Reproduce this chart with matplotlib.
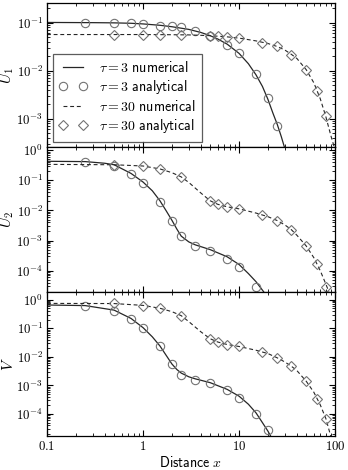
import numpy as np
import matplotlib
matplotlib.use('Agg')
import matplotlib.pyplot as plt
from matplotlib.ticker import FixedLocator, FuncFormatter, LogLocator, NullFormatter

# ── data ────────────────────────────────────────────────────
x_circ = [0.25, 0.5, 0.75, 1, 1.5, 2, 2.5, 3.5, 5, 7.5, 10, 15, 20, 25]
x_diam = [0.5, 1, 1.5, 2.5, 5, 6, 7.5, 10, 17.5, 25, 35, 50, 65, 80]

# U1
u1_num3_x = [0.1, 0.3, 0.5, 0.75, 1, 1.5, 2, 3, 4, 5, 6, 7.5, 10, 12.5, 15, 17.5, 20, 22.5, 25, 27.5, 29.7]
u1_num3_y = [0.102, 0.101, 0.1, 0.098, 0.095, 0.089, 0.083, 0.073, 0.063, 0.054, 0.046, 0.036, 0.023,
             0.014, 0.0082, 0.0047, 0.0025, 0.0013, 0.00075, 0.00042, 0.00025]
u1_num30_x = [0.1, 1, 2, 3, 5, 7.5, 10, 15, 20, 25, 30, 35, 40, 50, 60, 70, 80, 90, 98]
u1_num30_y = [0.057, 0.057, 0.0565, 0.056, 0.054, 0.051, 0.048, 0.042, 0.037, 0.032, 0.027, 0.022,
              0.018, 0.0105, 0.0056, 0.0026, 0.0011, 0.00045, 0.00025]
u1_ana3 = [0.101, 0.1, 0.097, 0.094, 0.0865, 0.084, 0.080, 0.067, 0.053, 0.035, 0.0236, 0.0085, 0.00275, 0.0007]
u1_ana30 = [0.056, 0.056, 0.056, 0.055, 0.053, 0.053, 0.051, 0.0486, 0.038, 0.0326, 0.0218, 0.0102, 0.0038, 0.00112]

# U2
u2_num3_x = [0.1, 0.25, 0.4, 0.5, 0.75, 1, 1.25, 1.5, 1.75, 2, 2.25, 2.5, 3, 3.5, 5, 7.5, 10, 12.5, 15, 18]
u2_num3_y = [0.43, 0.42, 0.37, 0.33, 0.17, 0.088, 0.045, 0.021, 0.0095, 0.0047, 0.0024, 0.0014, 0.0009,
             0.00072, 0.0005, 0.00029, 0.00016, 8e-5, 4.3e-5, 2e-5]
u2_num30_x = [0.1, 0.5, 1, 1.5, 2, 2.5, 3, 4, 5, 6, 7.5, 10, 15, 20, 25, 30, 35, 40, 50, 60, 70, 80, 86]
u2_num30_y = [0.34, 0.33, 0.30, 0.24, 0.18, 0.13, 0.085, 0.038, 0.021, 0.016, 0.0132, 0.0113, 0.0082,
              0.0062, 0.0046, 0.0033, 0.0023, 0.0015, 0.00066, 0.00027, 0.0001, 3.6e-5, 2e-5]
u2_ana3 = [0.395, 0.29, 0.158, 0.081, 0.019, 0.0044, 0.0014, 0.00065, 0.00046, 0.00024, 0.000135, 2.9e-5]
u2_ana30 = [0.32, 0.29, 0.23, 0.13, 0.0207, 0.0158, 0.0132, 0.0113, 0.0069, 0.0045, 0.0022, 0.00065,
            0.000166, 2.9e-5]

# V
v_num3_x = [0.1, 0.25, 0.5, 0.75, 1, 1.25, 1.5, 1.75, 2, 2.25, 2.5, 3, 3.5, 5, 7.5, 10, 12.5, 15, 17.5, 20, 21.5]
v_num3_y = [0.65, 0.62, 0.43, 0.22, 0.105, 0.05, 0.024, 0.011, 0.0056, 0.0036, 0.0027, 0.002, 0.0017,
            0.00125, 0.00073, 0.00042, 0.00022, 0.00011, 5e-5, 2.5e-5, 1.6e-5]
v_num30_x = [0.1, 0.5, 1, 1.5, 2, 2.5, 3, 4, 5, 6, 7.5, 10, 15, 20, 25, 30, 35, 40, 50, 60, 70, 80, 90]
v_num30_y = [0.74, 0.73, 0.63, 0.50, 0.38, 0.275, 0.17, 0.075, 0.043, 0.033, 0.027, 0.023, 0.017, 0.013,
             0.0092, 0.0066, 0.0047, 0.0033, 0.0014, 0.00058, 0.00021, 7e-5, 1.7e-5]
v_ana3 = [0.61, 0.41, 0.21, 0.105, 0.023, 0.0056, 0.0024, 0.0016, 0.0012, 0.00067, 0.00037, 0.0001, 2.8e-5]
v_ana30 = [0.74, 0.61, 0.50, 0.275, 0.042, 0.032, 0.026, 0.023, 0.0146, 0.009, 0.0046, 0.0014, 0.00034, 6.8e-5]

panels = [
    (r'$U_1$', (2.5e-4, 0.26), u1_num3_x, u1_num3_y, u1_num30_x, u1_num30_y, u1_ana3, u1_ana30),
    (r'$U_2$', (2e-5, 1.25), u2_num3_x, u2_num3_y, u2_num30_x, u2_num30_y, u2_ana3, u2_ana30),
    (r'$V$', (1.7e-5, 1.9), v_num3_x, v_num3_y, v_num30_x, v_num30_y, v_ana3, v_ana30),
]

x_ticks = [0.1, 1, 10, 100]
x_ticklabels = ['$0.1$', '$1$', '$10$', '$100$']

# ── style ───────────────────────────────────────────────────
plt.rcParams['mathtext.fontset'] = 'cm'
plt.rcParams['font.size'] = 10
plt.rcParams['xtick.direction'] = 'in'
plt.rcParams['ytick.direction'] = 'in'
plt.rcParams['xtick.top'] = True
plt.rcParams['ytick.right'] = True
plt.rcParams['xtick.major.size'] = 4
plt.rcParams['ytick.major.size'] = 4
plt.rcParams['xtick.minor.size'] = 2
plt.rcParams['ytick.minor.size'] = 2
plt.rcParams['axes.linewidth'] = 0.9

line_c = '0.15'
mark_c = '0.45'

fig = plt.figure(figsize=(3.48, 4.70), dpi=100)
left, right, top, bottom = 0.135, 0.963, 0.9936, 0.0723
h = (top - bottom) / 3

axes = []
for i, (ylab, ylim, n3x, n3y, n30x, n30y, a3, a30) in enumerate(panels):
    ax = fig.add_axes([left, top - (i + 1) * h, right - left, h])
    axes.append(ax)
    ax.plot(n3x, n3y, '-', color=line_c, lw=0.9, label=r'$\tau = 3\ \mathsf{numerical}$')
    ax.plot(x_circ[:len(a3)], a3, 'o', ms=6, mfc='none', mec=mark_c, mew=0.8,
            label=r'$\tau = 3\ \mathsf{analytical}$')
    ax.plot(n30x, n30y, '--', color=line_c, lw=0.8, dashes=(3.5, 2.5),
            label=r'$\tau = 30\ \mathsf{numerical}$')
    ax.plot(x_diam[:len(a30)], a30, 'D', ms=5, mfc='none', mec=mark_c, mew=0.8,
            label=r'$\tau = 30\ \mathsf{analytical}$')

    ax.set_xscale('log')
    ax.set_yscale('log')
    ax.set_xlim(0.1, 100)
    ax.set_ylim(*ylim)
    ax.set_ylabel(ylab, fontsize=11)

    ax.yaxis.set_major_locator(LogLocator(base=10, numticks=10))
    ax.yaxis.set_major_formatter(FuncFormatter(lambda v, p: r'$10^{%d}$' % round(np.log10(v))))
    ax.yaxis.set_minor_locator(LogLocator(base=10, subs=np.arange(2, 10), numticks=10))
    ax.yaxis.set_minor_formatter(NullFormatter())

    ax.xaxis.set_major_locator(FixedLocator(x_ticks))
    ax.xaxis.set_minor_locator(LogLocator(base=10, subs=np.arange(2, 10), numticks=10))
    ax.xaxis.set_minor_formatter(NullFormatter())
    if i < 2:
        ax.set_xticklabels([])
    else:
        ax.set_xticklabels(x_ticklabels)
    ax.tick_params(axis='both', which='major', labelsize=9.2, pad=3)
    ax.yaxis.set_label_coords(-0.107, 0.5)

axes[-1].set_xlabel(r'$\mathsf{Distance}\ x$', fontsize=10, labelpad=1)

leg = axes[0].legend(loc='lower left', bbox_to_anchor=(0.02, 0.04), numpoints=2, fontsize=10,
                     fancybox=False, frameon=True, handlelength=2.0, borderpad=0.45,
                     labelspacing=0.22, handletextpad=0.9, borderaxespad=0.0)
leg.get_frame().set_edgecolor('0.2')
leg.get_frame().set_linewidth(0.9)

fig.savefig('out.png', dpi=100)
